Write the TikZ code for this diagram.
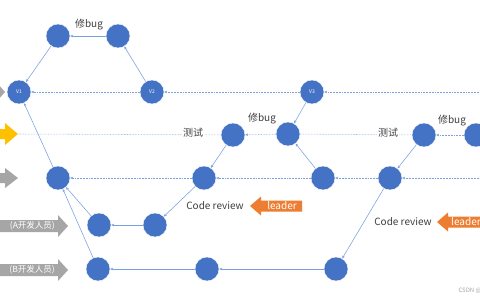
\documentclass[tikz,border=0pt]{standalone}
\usepackage{fontspec}
\setmainfont{Noto Sans CJK SC}
\usetikzlibrary{arrows.meta}
\definecolor{nodeblue}{HTML}{4472C4}
\definecolor{lineblue}{RGB}{122,160,224}
\definecolor{arrgray}{HTML}{A6A6A6}
\definecolor{arryellow}{HTML}{FFC000}
\definecolor{arrorange}{HTML}{ED7D31}
\tikzset{
  commit/.style={circle,fill=nodeblue,draw=white,line width=0.4pt,minimum size=24pt,inner sep=0pt,text=white,font=\fontsize{5}{5}\selectfont},
  link/.style={draw=lineblue,line width=0.55pt,-{Stealth[length=3pt,width=2.6pt]}},
  dlink/.style={link,densely dotted},
  plainline/.style={draw=lineblue,line width=0.55pt,densely dotted},
  lbl/.style={font=\fontsize{10}{10}\selectfont,text=black!75,inner sep=1pt},
  lblbg/.style={lbl,fill=white},
  btxt/.style={font=\fontsize{8.5}{8.5}\selectfont,text=white,inner sep=0pt},
  ltxt/.style={font=\fontsize{10}{10}\selectfont,text=white,inner sep=0pt}
}
\begin{document}
\begin{tikzpicture}[x=1pt,y=-1pt]
\clip (0,0) rectangle (480,300);
\fill[white] (0,0) rectangle (480,300);
% left block arrows
\fill[arrgray] (-40,87) -- (-3,87) -- (-3,83) -- (5,92) -- (-3,101) -- (-3,97) -- (-40,97) -- cycle;
\fill[arryellow] (-40,129) -- (5,129) -- (5,123) -- (18,134) -- (5,145) -- (5,139) -- (-40,139) -- cycle;
\fill[arrgray] (-40,173) -- (5,173) -- (5,168) -- (18,178) -- (5,188) -- (5,183) -- (-40,183) -- cycle;
\fill[arrgray] (-40,220) -- (58,220) -- (58,215) -- (68,226) -- (58,237) -- (58,232) -- (-40,232) -- cycle;
\node[btxt,anchor=east] (ta) at (55,226) {(A开发人员)};
\fill[arrgray] (-40,264) -- (58,264) -- (58,259) -- (68,270) -- (58,281) -- (58,276) -- (-40,276) -- cycle;
\node[btxt,anchor=east] (tb) at (55,270) {(B开发人员)};
% orange leader arrows
\fill[arrorange] (302,200.5) -- (261,200.5) -- (261,196.5) -- (250,206) -- (261,215.5) -- (261,211.5) -- (302,211.5) -- cycle;
\node[ltxt,anchor=center] (l1) at (282,206) {leader};
\fill[arrorange] (500,216.5) -- (448,216.5) -- (448,212.5) -- (437,222) -- (448,231.5) -- (448,227.5) -- (500,227.5) -- cycle;
\node[ltxt,anchor=west] (l2) at (451,222) {leader};
% commits
\node[commit] (hA) at (58,36) {};
\node[commit] (hB) at (118,36) {};
\node[commit] (v1) at (19,92) {V1};
\node[commit] (v2) at (152,92) {V2};
\node[commit] (v3) at (312,92) {V3};
\node[commit] (r1) at (233,135) {};
\node[commit] (r2) at (288,134) {};
\node[commit] (r3) at (424,135) {};
\node[commit] (r4) at (476,135) {};
\node[commit] (d1) at (58,178) {};
\node[commit] (d2) at (204,178) {};
\node[commit] (d3) at (323,178) {};
\node[commit] (d4) at (390,178) {};
\node[commit] (a1) at (99,225) {};
\node[commit] (a2) at (155,225) {};
\node[commit] (b1) at (98,269) {};
\node[commit] (b2) at (207,269) {};
\node[commit] (b3) at (336,269) {};
\coordinate (eV) at (482,92);
\coordinate (eD) at (482,178);
\coordinate (rL) at (18,134);
% labels
\node[lbl] (fix1) at (89,25) {修bug};
\node[lbl] (fix2) at (262,119) {修bug};
\node[lbl] (fix3) at (452,121) {修bug};
\node[lbl] (cr1) at (215,206) {Code review};
\node[lbl] (cr2) at (403,222) {Code review};
% connectors
\draw[link] (hB) -- (hA);
\draw[link] (hA) -- (v1);
\draw[link] (v2) -- (hB);
\draw[dlink] (eV) -- (v3);
\draw[dlink] (v3) -- (v2);
\draw[dlink] (v2) -- (v1);
\draw[plainline] (r1) -- (rL);
\draw[dlink] (r2) -- (r1);
\draw[plainline] (r2) -- (r3);
\draw[dlink] (r4) -- (r3);
\draw[link] (v3) -- (r2);
\draw[link] (d3) -- (r2);
\draw[link] (r1) -- (d2);
\draw[dlink] (eD) -- (d4);
\draw[dlink] (d4) -- (d3);
\draw[dlink] (d3) -- (d2);
\draw[dlink] (d2) -- (d1);
\draw[link] (d2) -- (a2);
\draw[link] (a2) -- (a1);
\draw[link] (a1) -- (d1);
\draw[link] (b1) -- (d1);
\draw[link] (d1) -- (v1);
\draw[link] (b3) -- (b2);
\draw[link] (b2) -- (b1);
\draw[link] (r3) -- (d4);
\draw[link] (d4) -- (b3);
% test labels over lines
\node[lblbg] (t1) at (193,133) {测试};
\node[lblbg] (t2) at (388,133) {测试};
\node[font=\fontsize{6}{6}\selectfont,text=black!35,anchor=west] (wm) at (455,291) {CSDN @};
\end{tikzpicture}
\end{document}
